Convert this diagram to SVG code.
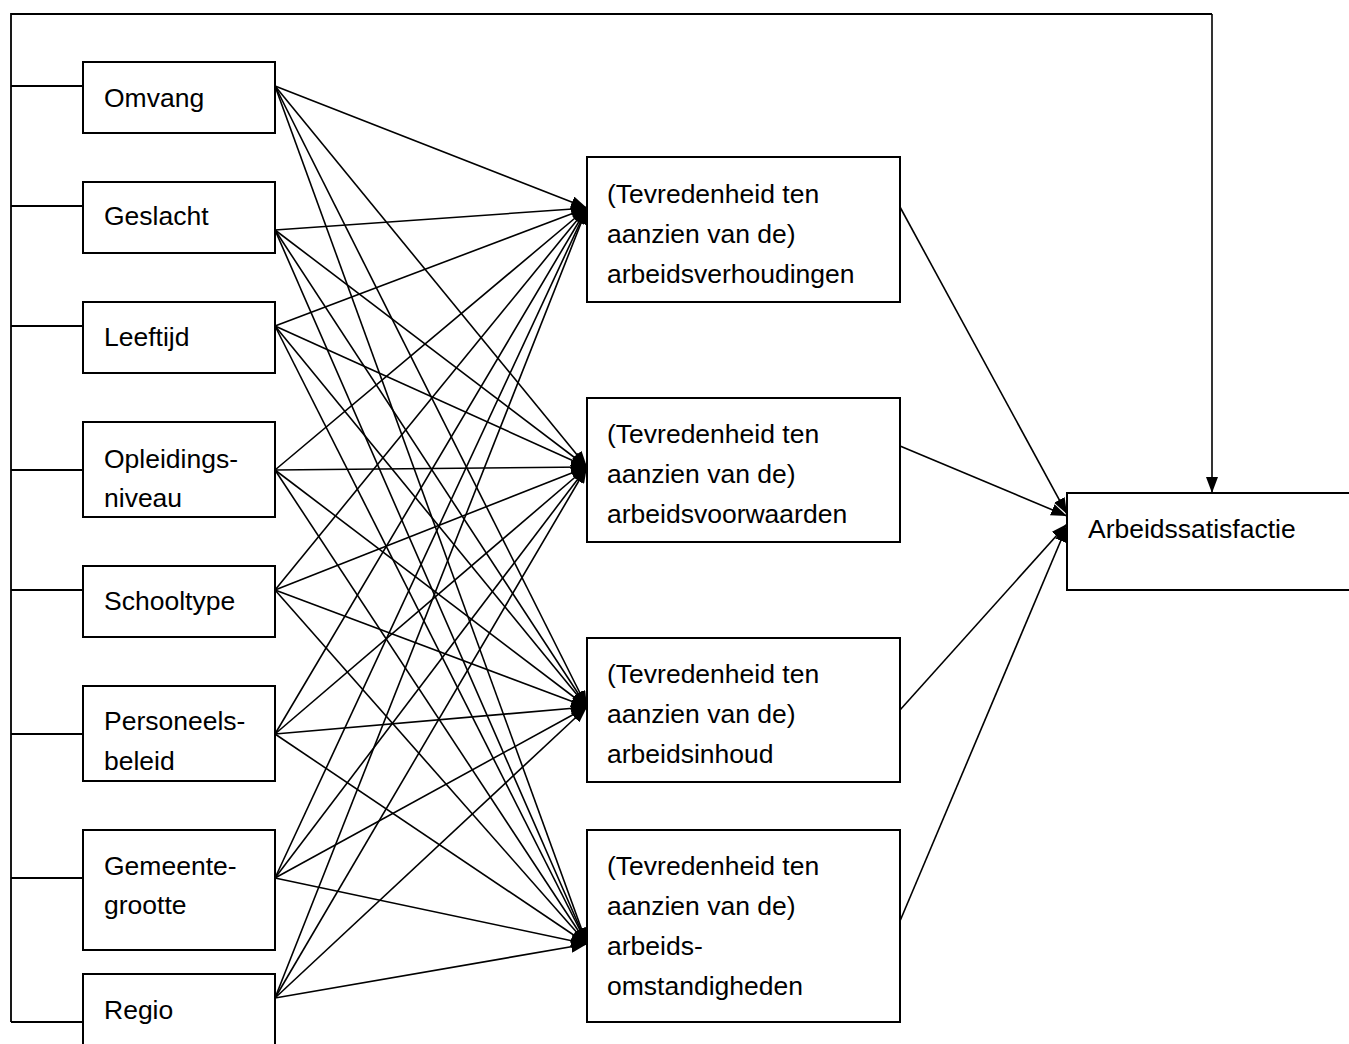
<svg xmlns="http://www.w3.org/2000/svg" width="1349" height="1044" viewBox="0 0 1349 1044">
  <style>
    .box { fill: #fff; stroke: #000; stroke-width: 2; }
    .lbl { font-family: "Liberation Sans", Arial, sans-serif; font-size: 26.5px; fill: #000; }
    .ln { fill: none; stroke: #000; stroke-width: 1.8; }
    .arr { fill: none; stroke: #000; stroke-width: 1.6; marker-end: url(#head); }
  </style>
  <defs>
    <marker id="head" viewBox="0 0 16 12" refX="16" refY="6" markerWidth="16" markerHeight="12" markerUnits="userSpaceOnUse" orient="auto">
      <path d="M0,0 L16,6 L0,12 z" fill="#000"/>
    </marker>
  </defs>
  <rect width="1349" height="1044" fill="#fff"/>

  <g id="connectors">
    <!-- bracket on the left joining all background variables, routed over the top to the outcome -->
    <path class="ln" d="M83,86 H11 M83,206 H11 M83,326 H11 M83,470 H11 M83,590 H11 M83,734 H11 M83,878 H11 M83,1022 H11 M11,1022 V14 H1212"/>
    <line class="arr" x1="1212" y1="14" x2="1212" y2="493"/>

    <!-- Omvang -->
    <line class="arr" x1="275" y1="86" x2="587" y2="208"/>
    <line class="arr" x1="275" y1="86" x2="587" y2="467"/>
    <line class="arr" x1="275" y1="86" x2="587" y2="707"/>
    <line class="arr" x1="275" y1="86" x2="587" y2="944"/>
    <!-- Geslacht -->
    <line class="arr" x1="275" y1="230" x2="587" y2="208"/>
    <line class="arr" x1="275" y1="230" x2="587" y2="467"/>
    <line class="arr" x1="275" y1="230" x2="587" y2="707"/>
    <line class="arr" x1="275" y1="230" x2="587" y2="944"/>
    <!-- Leeftijd -->
    <line class="arr" x1="275" y1="326" x2="587" y2="208"/>
    <line class="arr" x1="275" y1="326" x2="587" y2="467"/>
    <line class="arr" x1="275" y1="326" x2="587" y2="707"/>
    <line class="arr" x1="275" y1="326" x2="587" y2="944"/>
    <!-- Opleidingsniveau -->
    <line class="arr" x1="275" y1="470" x2="587" y2="208"/>
    <line class="arr" x1="275" y1="470" x2="587" y2="467"/>
    <line class="arr" x1="275" y1="470" x2="587" y2="707"/>
    <line class="arr" x1="275" y1="470" x2="587" y2="944"/>
    <!-- Schooltype -->
    <line class="arr" x1="275" y1="590" x2="587" y2="208"/>
    <line class="arr" x1="275" y1="590" x2="587" y2="467"/>
    <line class="arr" x1="275" y1="590" x2="587" y2="707"/>
    <line class="arr" x1="275" y1="590" x2="587" y2="944"/>
    <!-- Personeelsbeleid -->
    <line class="arr" x1="275" y1="734" x2="587" y2="208"/>
    <line class="arr" x1="275" y1="734" x2="587" y2="467"/>
    <line class="arr" x1="275" y1="734" x2="587" y2="707"/>
    <line class="arr" x1="275" y1="734" x2="587" y2="944"/>
    <!-- Gemeentegrootte -->
    <line class="arr" x1="275" y1="878" x2="587" y2="208"/>
    <line class="arr" x1="275" y1="878" x2="587" y2="467"/>
    <line class="arr" x1="275" y1="878" x2="587" y2="707"/>
    <line class="arr" x1="275" y1="878" x2="587" y2="944"/>
    <!-- Regio -->
    <line class="arr" x1="275" y1="998" x2="587" y2="208"/>
    <line class="arr" x1="275" y1="998" x2="587" y2="467"/>
    <line class="arr" x1="275" y1="998" x2="587" y2="707"/>
    <line class="arr" x1="275" y1="998" x2="587" y2="944"/>

    <!-- satisfaction domains to overall satisfaction -->
    <line class="arr" x1="900" y1="207" x2="1067" y2="514"/>
    <line class="arr" x1="900" y1="446" x2="1067" y2="516"/>
    <line class="arr" x1="900" y1="710" x2="1067" y2="524"/>
    <line class="arr" x1="900" y1="921" x2="1067" y2="526"/>
  </g>

  <g id="omvang">
    <rect class="box" x="83" y="62" width="192" height="71"/>
    <text class="lbl" x="104" y="107">Omvang</text>
  </g>
  <g id="geslacht">
    <rect class="box" x="83" y="182" width="192" height="71"/>
    <text class="lbl" x="104" y="225">Geslacht</text>
  </g>
  <g id="leeftijd">
    <rect class="box" x="83" y="302" width="192" height="71"/>
    <text class="lbl" x="104" y="346">Leeftijd</text>
  </g>
  <g id="opleidingsniveau">
    <rect class="box" x="83" y="422" width="192" height="95"/>
    <text class="lbl" x="104" y="468">Opleidings-</text>
    <text class="lbl" x="104" y="507">niveau</text>
  </g>
  <g id="schooltype">
    <rect class="box" x="83" y="566" width="192" height="71"/>
    <text class="lbl" x="104" y="610">Schooltype</text>
  </g>
  <g id="personeelsbeleid">
    <rect class="box" x="83" y="686" width="192" height="95"/>
    <text class="lbl" x="104" y="730">Personeels-</text>
    <text class="lbl" x="104" y="770">beleid</text>
  </g>
  <g id="gemeentegrootte">
    <rect class="box" x="83" y="830" width="192" height="120"/>
    <text class="lbl" x="104" y="875">Gemeente-</text>
    <text class="lbl" x="104" y="914">grootte</text>
  </g>
  <g id="regio">
    <rect class="box" x="83" y="974" width="192" height="80"/>
    <text class="lbl" x="104" y="1019">Regio</text>
  </g>

  <g id="arbeidsverhoudingen">
    <rect class="box" x="587" y="157" width="313" height="145"/>
    <text class="lbl" x="607" y="203">(Tevredenheid ten</text>
    <text class="lbl" x="607" y="243">aanzien van de)</text>
    <text class="lbl" x="607" y="283">arbeidsverhoudingen</text>
  </g>
  <g id="arbeidsvoorwaarden">
    <rect class="box" x="587" y="398" width="313" height="144"/>
    <text class="lbl" x="607" y="443">(Tevredenheid ten</text>
    <text class="lbl" x="607" y="483">aanzien van de)</text>
    <text class="lbl" x="607" y="523">arbeidsvoorwaarden</text>
  </g>
  <g id="arbeidsinhoud">
    <rect class="box" x="587" y="638" width="313" height="144"/>
    <text class="lbl" x="607" y="683">(Tevredenheid ten</text>
    <text class="lbl" x="607" y="723">aanzien van de)</text>
    <text class="lbl" x="607" y="763">arbeidsinhoud</text>
  </g>
  <g id="arbeidsomstandigheden">
    <rect class="box" x="587" y="830" width="313" height="192"/>
    <text class="lbl" x="607" y="875">(Tevredenheid ten</text>
    <text class="lbl" x="607" y="915">aanzien van de)</text>
    <text class="lbl" x="607" y="955">arbeids-</text>
    <text class="lbl" x="607" y="995">omstandigheden</text>
  </g>

  <g id="arbeidssatisfactie">
    <rect class="box" x="1067" y="493" width="300" height="97"/>
    <text class="lbl" x="1088" y="538">Arbeidssatisfactie</text>
  </g>
</svg>
